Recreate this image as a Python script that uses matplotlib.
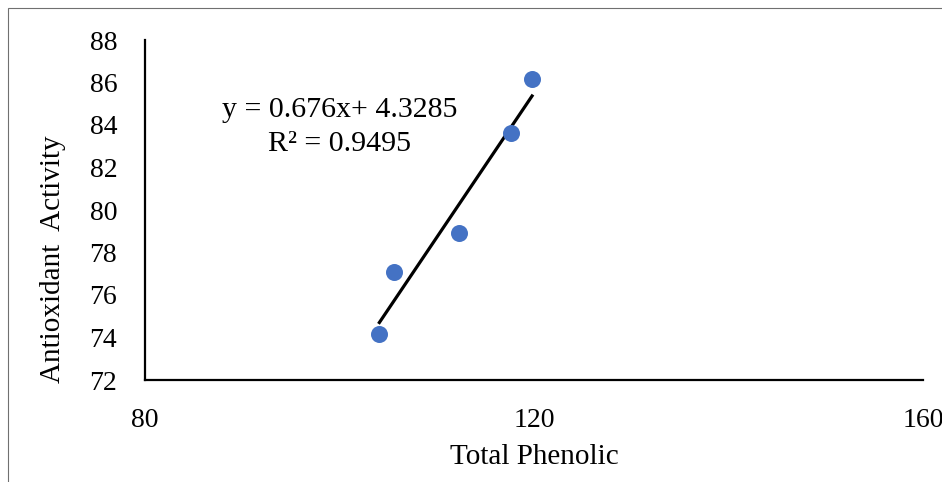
import numpy as np
import matplotlib.pyplot as plt
from matplotlib.patches import Rectangle

plt.rcParams['font.family'] = ['Liberation Serif', 'DejaVu Serif']

# 資料
total_phenolic = [104.1, 105.6, 112.3, 117.6, 119.8]
antioxidant = [74.16, 77.08, 78.92, 83.62, 86.16]
x_ticks = [80, 120, 160]
y_ticks = [72, 74, 76, 78, 80, 82, 84, 86, 88]
eq_text = "y = 0.676x+ 4.3285"
r2_text = "R² = 0.9495"

fig = plt.figure(figsize=(9.42, 4.82), dpi=100)
ax = fig.add_axes([145/942, 1-380/482, (923-145)/942, 340/482])

# 外框
fig.patches.append(Rectangle((8/942, -0.1), 1.2, 1-8/482+0.1, transform=fig.transFigure,
                             fill=False, edgecolor='#707070', linewidth=0.8))

ax.scatter(total_phenolic, antioxidant, s=150, color='#4472C4', zorder=3, linewidths=0)

# 趨勢線
k, b = np.polyfit(total_phenolic, antioxidant, 1)
xs = np.array([min(total_phenolic), max(total_phenolic)])
ax.plot(xs, k*xs + b, color='black', linewidth=2.3, zorder=2)

ax.text(340/942, 1-110/482, eq_text, transform=fig.transFigure, ha='center', va='center', fontsize=21.5)
ax.text(340/942, 1-144/482, r2_text, transform=fig.transFigure, ha='center', va='center', fontsize=21.5)

ax.set_xlim(80, 160)
ax.set_ylim(72, 88)
ax.set_xticks(x_ticks)
ax.set_yticks(y_ticks)
ax.tick_params(length=0, labelsize=20, pad=20)
ax.spines['top'].set_visible(False)
ax.spines['right'].set_visible(False)
for s in ['left', 'bottom']:
    ax.spines[s].set_linewidth(1.6)
for lab in ax.get_xticklabels():
    lab.set_clip_on(False)

ax.set_xlabel("Total Phenolic", fontsize=21, labelpad=8)
ax.set_ylabel("Antioxidant  Activity", fontsize=21)
ax.yaxis.set_label_coords(-0.101, 0.356)

fig.savefig("out.png", dpi=100)
